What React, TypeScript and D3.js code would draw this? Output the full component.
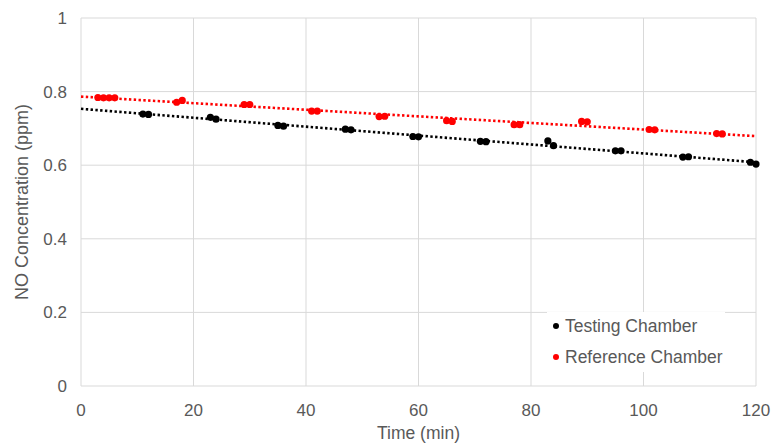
import React from "react";
import * as d3 from "d3";

const testingTime = [11, 12, 23, 24, 35, 36, 47, 48, 59, 60, 71, 72, 83, 84, 95, 96, 107, 108, 119, 120];
const testingNO = [0.739, 0.738, 0.730, 0.725, 0.708, 0.706, 0.698, 0.696, 0.678, 0.677, 0.665, 0.664, 0.666, 0.653, 0.639, 0.639, 0.622, 0.623, 0.608, 0.603];
const referenceTime = [3, 4, 5, 6, 17, 18, 29, 30, 41, 42, 53, 54, 65, 66, 77, 78, 89, 90, 101, 102, 113, 114];
const referenceNO = [0.784, 0.783, 0.783, 0.783, 0.771, 0.776, 0.765, 0.765, 0.747, 0.747, 0.732, 0.733, 0.721, 0.719, 0.710, 0.710, 0.719, 0.718, 0.697, 0.696, 0.686, 0.685];
const xTicks = [0, 20, 40, 60, 80, 100, 120];
const yTicks = [0, 0.2, 0.4, 0.6, 0.8, 1];
const seriesNames = ["Testing Chamber", "Reference Chamber"];
const seriesColors = ["#000000", "#ff0000"];

function fit(xs: number[], ys: number[]) {
  const mx = d3.mean(xs)!;
  const my = d3.mean(ys)!;
  let num = 0, den = 0;
  xs.forEach((x, i) => { num += (x - mx) * (ys[i] - my); den += (x - mx) * (x - mx); });
  const b = num / den;
  const a = my - b * mx;
  return (x: number) => a + b * x;
}

export default function App() {
  const W = 774, H = 445;
  const left = 81, right = 756, top = 18, bottom = 386;
  const x = d3.scaleLinear().domain([0, 120]).range([left, right]);
  const y = d3.scaleLinear().domain([0, 1]).range([bottom, top]);
  const textColor = "#595959";
  const grid = "#d9d9d9";
  const font = "'Liberation Sans', Arial, sans-serif";

  const series = [
    { t: testingTime, v: testingNO },
    { t: referenceTime, v: referenceNO },
  ];
  const line = d3.line<[number, number]>().x(d => x(d[0])).y(d => y(d[1]));

  return (
    <div style={{ position: "absolute", left: 0, top: 0 }}>
      <svg width={W} height={H} style={{ display: "block", background: "#fff" }} fontFamily={font}>
        {yTicks.map(t => (
          <line key={"gy" + t} x1={left} x2={right} y1={y(t)} y2={y(t)} stroke={grid} strokeWidth={1} />
        ))}
        {xTicks.map(t => (
          <line key={"gx" + t} x1={x(t)} x2={x(t)} y1={top} y2={bottom} stroke={grid} strokeWidth={1} />
        ))}
        {yTicks.map(t => (
          <text key={"ty" + t} x={67} y={y(t)} dy="0.35em" textAnchor="end" fontSize={17} fill={textColor}>
            {d3.format("~g")(t)}
          </text>
        ))}
        {xTicks.map(t => (
          <text key={"tx" + t} x={x(t)} y={416} textAnchor="middle" fontSize={17} fill={textColor}>
            {t}
          </text>
        ))}
        <text x={(left + right) / 2} y={439} textAnchor="middle" fontSize={17.5} fill={textColor}>Time (min)</text>
        <text transform={`translate(28, ${(top + bottom) / 2}) rotate(-90)`} textAnchor="middle" fontSize={18} fill={textColor}>
          NO Concentration (ppm)
        </text>
        {series.map((s, i) => {
          const f = fit(s.t, s.v);
          return (
            <path key={"tl" + i} d={line([[0, f(0)], [120, f(120)]])!} stroke={seriesColors[i]} strokeWidth={2.6}
              strokeDasharray="2.4 2.4" fill="none" />
          );
        })}
        {series.map((s, i) => (
          <g key={"pts" + i}>
            {s.t.map((t, j) => (
              <circle key={j} cx={x(t)} cy={y(s.v[j])} r={3.6} fill={seriesColors[i]} />
            ))}
          </g>
        ))}
        <rect x={547} y={312} width={178} height={60} fill="#fff" />
        {seriesNames.map((n, i) => (
          <g key={"lg" + i}>
            <circle cx={556} cy={326 + i * 31} r={3} fill={seriesColors[i]} />
            <text x={565} y={326 + i * 31} dy="0.35em" fontSize={17.5} fill={textColor}>{n}</text>
          </g>
        ))}
      </svg>
    </div>
  );
}
